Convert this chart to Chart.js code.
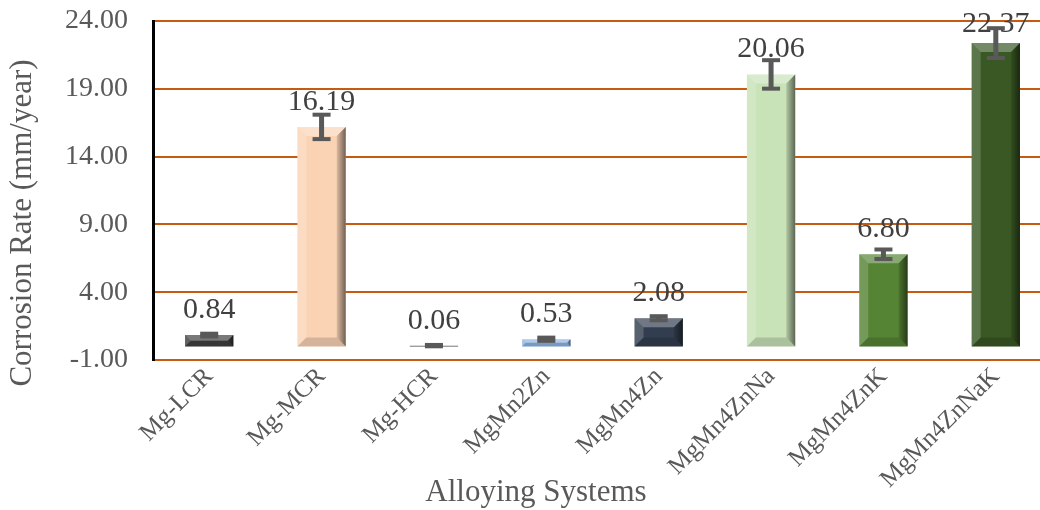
<!DOCTYPE html>
<html>
<head>
<meta charset="utf-8">
<title>Corrosion Rate by Alloying System</title>
<script src="https://cdn.jsdelivr.net/npm/chart.js@4.4.1/dist/chart.umd.min.js"></script>
<style>
  html, body { margin: 0; padding: 0; background: #fff; overflow: hidden; }
  #wrap { position: relative; width: 1060px; height: 510px; }
</style>
</head>
<body>
<div id="wrap"><canvas id="rateChart"></canvas></div>
<script>
// ─── Data ─────────────────────────────────────────────────────
const alloys = ['Mg-LCR', 'Mg-MCR', 'Mg-HCR', 'MgMn2Zn', 'MgMn4Zn', 'MgMn4ZnNa', 'MgMn4ZnK', 'MgMn4ZnNaK'];
const corrosionRates = [0.84, 16.19, 0.06, 0.53, 2.08, 20.06, 6.80, 22.37];
const rateErrors = [0.10, 0.90, 0.05, 0.12, 0.15, 1.05, 0.35, 1.10];
const yMin = -1;
const yMax = 24;
const yStep = 5;

const barColors = ['#404040', '#FAD3B5', '#595959', '#8DB4E2', '#323E4F', '#C9E3B9', '#568435', '#395824'];
const SERIF = "'Liberation Serif', 'Times New Roman', serif";
const GREY_TEXT = '#595959';

// scale paddings are zeroed so the plot box is set by layout padding alone
function noScalePadding(scale) {
  scale.paddingTop = 0;
  scale.paddingBottom = 0;
  scale.paddingLeft = 0;
  scale.paddingRight = 0;
}

// ─── Bevel shading over each bar ──────────────────────────────
const bevelPlugin = {
  id: 'bevel',
  afterDatasetDraw(chart, args) {
    const ctx = chart.ctx;
    args.meta.data.forEach(bar => {
      const { x, y, base, width } = bar.getProps(['x', 'y', 'base', 'width'], true);
      const l = x - width / 2, r = x + width / 2;
      const t = Math.min(y, base), b = Math.max(y, base);
      const bv = Math.min(9, (b - t) / 2, width / 2);
      if (bv <= 0) return;
      ctx.save();
      const poly = (pts, fill) => {
        ctx.beginPath();
        ctx.moveTo(pts[0][0], pts[0][1]);
        pts.slice(1).forEach(p => ctx.lineTo(p[0], p[1]));
        ctx.closePath();
        ctx.fillStyle = fill;
        ctx.fill();
      };
      // top face
      poly([[l, t], [r, t], [r - bv, t + bv], [l + bv, t + bv]], 'rgba(255,255,255,0.30)');
      // left face
      poly([[l, t], [l + bv, t + bv], [l + bv, b - bv], [l, b]], 'rgba(255,255,255,0.18)');
      // right face
      const g = ctx.createLinearGradient(r - bv, 0, r, 0);
      g.addColorStop(0, 'rgba(0,0,0,0.12)');
      g.addColorStop(1, 'rgba(0,0,0,0.55)');
      poly([[r, t], [r, b], [r - bv, b - bv], [r - bv, t + bv]], g);
      // bottom face
      poly([[l, b], [r, b], [r - bv, b - bv], [l + bv, b - bv]], 'rgba(0,0,0,0.15)');
      ctx.restore();
    });
  }
};

// ─── Value labels + error bars ────────────────────────────────
const labelsAndErrorsPlugin = {
  id: 'labelsAndErrors',
  afterDatasetsDraw(chart) {
    const ctx = chart.ctx;
    const yScale = chart.scales.y;
    const meta = chart.getDatasetMeta(0);
    ctx.save();

    // value labels
    ctx.font = '30px ' + SERIF;
    ctx.fillStyle = '#404040';
    ctx.textAlign = 'center';
    ctx.textBaseline = 'alphabetic';
    meta.data.forEach((bar, i) => {
      const top = yScale.getPixelForValue(corrosionRates[i]);
      const baseline = Math.max(top - 17, chart.chartArea.top + 11);
      ctx.fillText(corrosionRates[i].toFixed(2), bar.x, baseline);
    });

    // error bars
    ctx.fillStyle = '#595959';
    meta.data.forEach((bar, i) => {
      const hi = yScale.getPixelForValue(corrosionRates[i] + rateErrors[i]);
      const lo = yScale.getPixelForValue(corrosionRates[i] - rateErrors[i]);
      const capW = 18, capH = 4, stem = 5;
      ctx.fillRect(bar.x - stem / 2, hi, stem, lo - hi);
      ctx.fillRect(bar.x - capW / 2, hi - capH / 2, capW, capH);
      ctx.fillRect(bar.x - capW / 2, lo - capH / 2, capW, capH);
    });
    ctx.restore();
  }
};

// ─── Axis titles ──────────────────────────────────────────────
const axisTitlesPlugin = {
  id: 'axisTitles',
  afterDraw(chart) {
    const ctx = chart.ctx;
    ctx.save();
    ctx.fillStyle = GREY_TEXT;
    ctx.font = '31px ' + SERIF;
    ctx.textAlign = 'center';
    ctx.textBaseline = 'middle';
    ctx.fillText('Alloying Systems', 536, 493);
    ctx.translate(23, 223);
    ctx.rotate(-Math.PI / 2);
    ctx.fillText('Corrosion Rate (mm/year)', 0, 0);
    ctx.restore();
  }
};

// ─── Chart ────────────────────────────────────────────────────
new Chart(document.getElementById('rateChart'), {
  type: 'bar',
  data: {
    labels: alloys,
    datasets: [{
      label: 'Corrosion Rate',
      data: corrosionRates,
      backgroundColor: barColors,
      borderWidth: 0,
      categoryPercentage: 1,
      barPercentage: 0.43
    }]
  },
  options: {
    responsive: true,
    maintainAspectRatio: false,
    animation: false,
    events: [],
    layout: { padding: { left: 0, top: 21, right: 8, bottom: 0 } },
    plugins: {
      legend: { display: false },
      tooltip: { enabled: false }
    },
    scales: {
      x: {
        grid: { display: false, drawTicks: false },
        border: { display: false },
        ticks: {
          color: GREY_TEXT,
          font: { family: SERIF, size: 25 },
          minRotation: 45,
          maxRotation: 45,
          padding: 2
        },
        afterFit(scale) {
          scale.height = 150;
          noScalePadding(scale);
        }
      },
      y: {
        min: yMin,
        max: yMax,
        grid: { color: '#C55A11', lineWidth: 2, drawTicks: false },
        border: { display: true, color: '#000', width: 3 },
        ticks: {
          stepSize: yStep,
          color: GREY_TEXT,
          font: { family: SERIF, size: 28 },
          padding: 25,
          callback: v => v.toFixed(2)
        },
        afterFit(scale) {
          scale.width = 153;
          noScalePadding(scale);
        }
      }
    }
  },
  plugins: [bevelPlugin, labelsAndErrorsPlugin, axisTitlesPlugin]
});
</script>
</body>
</html>
